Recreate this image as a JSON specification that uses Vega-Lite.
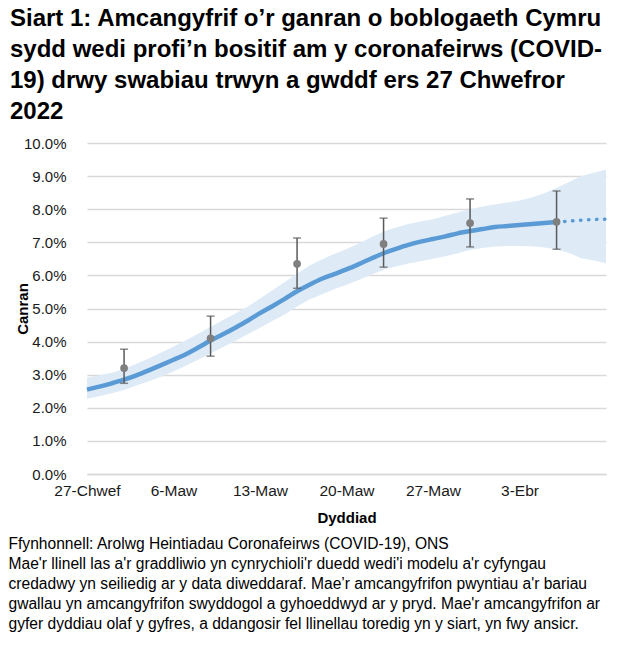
{
  "$schema": "https://vega.github.io/schema/vega-lite/v6.json",
  "width": 519,
  "height": 331,
  "autosize": "none",
  "padding": {"left": 87, "top": 143, "right": 21, "bottom": 175},
  "background": "white",
  "config": {
    "font": "Liberation Sans",
    "view": {"stroke": null}
  },
  "title": {
    "text": [
      "Siart 1: Amcangyfrif o’r ganran o boblogaeth Cymru",
      "sydd wedi profi’n bositif am y coronafeirws (COVID-",
      "19) drwy swabiau trwyn a gwddf ers 27 Chwefror",
      "2022"
    ],
    "anchor": "start",
    "frame": "group",
    "dx": -77,
    "offset": 12,
    "fontSize": 24,
    "lineHeight": 31,
    "fontWeight": "bold",
    "color": "#000000",
    "font": "Liberation Sans"
  },
  "datasets": {
    "trend": [
      {"date": "2022-02-27", "est": 2.55, "lo": 2.27, "hi": 2.91},
      {"date": "2022-02-28", "est": 2.64, "lo": 2.35, "hi": 2.98},
      {"date": "2022-03-01", "est": 2.74, "lo": 2.44, "hi": 3.06},
      {"date": "2022-03-02", "est": 2.85, "lo": 2.54, "hi": 3.17},
      {"date": "2022-03-03", "est": 2.98, "lo": 2.67, "hi": 3.33},
      {"date": "2022-03-04", "est": 3.13, "lo": 2.80, "hi": 3.49},
      {"date": "2022-03-05", "est": 3.29, "lo": 2.94, "hi": 3.67},
      {"date": "2022-03-06", "est": 3.45, "lo": 3.10, "hi": 3.85},
      {"date": "2022-03-07", "est": 3.62, "lo": 3.27, "hi": 4.04},
      {"date": "2022-03-08", "est": 3.82, "lo": 3.45, "hi": 4.24},
      {"date": "2022-03-09", "est": 4.03, "lo": 3.65, "hi": 4.45},
      {"date": "2022-03-10", "est": 4.22, "lo": 3.83, "hi": 4.65},
      {"date": "2022-03-11", "est": 4.42, "lo": 4.02, "hi": 4.85},
      {"date": "2022-03-12", "est": 4.63, "lo": 4.22, "hi": 5.06},
      {"date": "2022-03-13", "est": 4.86, "lo": 4.42, "hi": 5.30},
      {"date": "2022-03-14", "est": 5.07, "lo": 4.62, "hi": 5.55},
      {"date": "2022-03-15", "est": 5.29, "lo": 4.82, "hi": 5.80},
      {"date": "2022-03-16", "est": 5.52, "lo": 5.06, "hi": 6.05},
      {"date": "2022-03-17", "est": 5.72, "lo": 5.27, "hi": 6.30},
      {"date": "2022-03-18", "est": 5.90, "lo": 5.42, "hi": 6.48},
      {"date": "2022-03-19", "est": 6.04, "lo": 5.58, "hi": 6.65},
      {"date": "2022-03-20", "est": 6.18, "lo": 5.72, "hi": 6.80},
      {"date": "2022-03-21", "est": 6.34, "lo": 5.86, "hi": 6.96},
      {"date": "2022-03-22", "est": 6.51, "lo": 6.02, "hi": 7.15},
      {"date": "2022-03-23", "est": 6.67, "lo": 6.17, "hi": 7.33},
      {"date": "2022-03-24", "est": 6.80, "lo": 6.27, "hi": 7.45},
      {"date": "2022-03-25", "est": 6.92, "lo": 6.36, "hi": 7.55},
      {"date": "2022-03-26", "est": 7.02, "lo": 6.43, "hi": 7.63},
      {"date": "2022-03-27", "est": 7.10, "lo": 6.50, "hi": 7.70},
      {"date": "2022-03-28", "est": 7.18, "lo": 6.58, "hi": 7.80},
      {"date": "2022-03-29", "est": 7.27, "lo": 6.67, "hi": 7.90},
      {"date": "2022-03-30", "est": 7.34, "lo": 6.77, "hi": 8.00},
      {"date": "2022-03-31", "est": 7.40, "lo": 6.83, "hi": 8.08},
      {"date": "2022-04-01", "est": 7.46, "lo": 6.87, "hi": 8.14},
      {"date": "2022-04-02", "est": 7.49, "lo": 6.89, "hi": 8.20},
      {"date": "2022-04-03", "est": 7.52, "lo": 6.89, "hi": 8.26},
      {"date": "2022-04-04", "est": 7.55, "lo": 6.88, "hi": 8.35},
      {"date": "2022-04-05", "est": 7.58, "lo": 6.84, "hi": 8.48},
      {"date": "2022-04-06", "est": 7.61, "lo": 6.79, "hi": 8.64},
      {"date": "2022-04-07", "est": 7.64, "lo": 6.68, "hi": 8.82},
      {"date": "2022-04-08", "est": 7.67, "lo": 6.52, "hi": 9.00},
      {"date": "2022-04-09", "est": 7.69, "lo": 6.45, "hi": 9.10},
      {"date": "2022-04-10", "est": 7.70, "lo": 6.37, "hi": 9.19}
    ],
    "official": [
      {"date": "2022-03-02", "est": 3.20, "lo": 2.74, "hi": 3.77},
      {"date": "2022-03-09", "est": 4.10, "lo": 3.56, "hi": 4.77},
      {"date": "2022-03-16", "est": 6.35, "lo": 5.61, "hi": 7.13},
      {"date": "2022-03-23", "est": 6.95, "lo": 6.25, "hi": 7.73},
      {"date": "2022-03-30", "est": 7.58, "lo": 6.86, "hi": 8.31},
      {"date": "2022-04-06", "est": 7.62, "lo": 6.79, "hi": 8.55}
    ]
  },
  "resolve": {"axis": {"x": "independent", "y": "independent"}},
  "layer": [
    {
      "data": {"name": "trend"},
      "mark": {"type": "area", "color": "#deebf7", "opacity": 1},
      "encoding": {
        "x": {
          "field": "date",
          "type": "temporal",
          "scale": {
            "type": "utc",
            "domain": [
              {"year": 2022, "month": 2, "date": 27, "utc": true},
              {"year": 2022, "month": 4, "date": 10, "utc": true}
            ]
          },
          "axis": {
            "orient": "bottom",
            "values": [
              {"year": 2022, "month": 2, "date": 27, "utc": true},
              {"year": 2022, "month": 3, "date": 6, "utc": true},
              {"year": 2022, "month": 3, "date": 13, "utc": true},
              {"year": 2022, "month": 3, "date": 20, "utc": true},
              {"year": 2022, "month": 3, "date": 27, "utc": true},
              {"year": 2022, "month": 4, "date": 3, "utc": true}
            ],
            "labelExpr": "utcdate(datum.value) + '-' + (utcmonth(datum.value) == 1 ? 'Chwef' : utcmonth(datum.value) == 2 ? 'Maw' : 'Ebr')",
            "labelFontSize": 15.5,
            "labelColor": "#1a1a1a",
            "labelPadding": 9,
            "labelFlush": false,
            "labelOverlap": false,
            "ticks": false,
            "grid": false,
            "domainColor": "#d9d9d9",
            "domainWidth": 1.3,
            "title": "Dyddiad",
            "titleFontSize": 15,
            "titleFontWeight": "bold",
            "titleColor": "#000000",
            "titleBaseline": "alphabetic",
            "titleY": 48
          }
        },
        "y": {
          "field": "lo",
          "type": "quantitative",
          "scale": {"domain": [0, 10], "nice": false},
          "axis": {
            "values": [0, 1, 2, 3, 4, 5, 6, 7, 8, 9, 10],
            "labelExpr": "format(datum.value, '.1f') + '%'",
            "labelFontSize": 15,
            "labelColor": "#1a1a1a",
            "labelPadding": 21,
            "ticks": false,
            "domain": false,
            "grid": true,
            "gridColor": "#d9d9d9",
            "gridWidth": 1.3,
            "title": "Canran",
            "titleFontSize": 15,
            "titleFontWeight": "bold",
            "titleColor": "#000000",
            "titleBaseline": "middle",
            "titleX": -65,
            "titleY": 165.5
          }
        },
        "y2": {"field": "hi"}
      }
    },
    {
      "data": {"name": "trend"},
      "transform": [{"filter": "time(datum.date) <= utc(2022, 3, 6)"}],
      "mark": {"type": "line", "color": "#5b9bd5", "strokeWidth": 4.5, "strokeCap": "butt", "interpolate": "monotone"},
      "encoding": {
        "x": {
          "field": "date",
          "type": "temporal",
          "axis": {
            "orient": "bottom",
            "labels": false,
            "ticks": false,
            "domain": false,
            "grid": false,
            "title": [
              "Ffynhonnell: Arolwg Heintiadau Coronafeirws (COVID-19), ONS",
              "Mae'r llinell las a'r graddliwio yn cynrychioli'r duedd wedi'i modelu a'r cyfyngau",
              "credadwy yn seiliedig ar y data diweddaraf. Mae’r amcangyfrifon pwyntiau a'r bariau",
              "gwallau yn amcangyfrifon swyddogol a gyhoeddwyd ar y pryd. Mae'r amcangyfrifon ar",
              "gyfer dyddiau olaf y gyfres, a ddangosir fel llinellau toredig yn y siart, yn fwy ansicr."
            ],
            "titleFontSize": 15.6,
            "titleFontWeight": "normal",
            "titleColor": "#000000",
            "titleAlign": "left",
            "titleAnchor": "start",
            "titleBaseline": "alphabetic",
            "titleLineHeight": 20.2,
            "titleX": -79,
            "titleY": 74
          }
        },
        "y": {"field": "est", "type": "quantitative", "axis": null}
      }
    },
    {
      "data": {"name": "trend"},
      "transform": [{"filter": "time(datum.date) >= utc(2022, 3, 6)"}],
      "mark": {"type": "line", "color": "#5b9bd5", "strokeWidth": 3.5, "strokeCap": "round", "strokeDash": [0.5, 7.5]},
      "encoding": {
        "x": {"field": "date", "type": "temporal", "axis": null},
        "y": {"field": "est", "type": "quantitative", "axis": null}
      }
    },
    {
      "data": {"name": "official"},
      "mark": {"type": "rule", "color": "#595959", "strokeWidth": 1.5},
      "encoding": {
        "x": {"field": "date", "type": "temporal", "axis": null},
        "y": {"field": "lo", "type": "quantitative", "axis": null},
        "y2": {"field": "hi"}
      }
    },
    {
      "data": {"name": "official"},
      "mark": {"type": "tick", "orient": "horizontal", "color": "#595959", "thickness": 1.5, "size": 8},
      "encoding": {
        "x": {"field": "date", "type": "temporal", "axis": null},
        "y": {"field": "lo", "type": "quantitative", "axis": null}
      }
    },
    {
      "data": {"name": "official"},
      "mark": {"type": "tick", "orient": "horizontal", "color": "#595959", "thickness": 1.5, "size": 8},
      "encoding": {
        "x": {"field": "date", "type": "temporal", "axis": null},
        "y": {"field": "hi", "type": "quantitative", "axis": null}
      }
    },
    {
      "data": {"name": "official"},
      "mark": {"type": "circle", "color": "#7f7f7f", "opacity": 1, "size": 60},
      "encoding": {
        "x": {"field": "date", "type": "temporal", "axis": null},
        "y": {"field": "est", "type": "quantitative", "axis": null}
      }
    }
  ]
}
